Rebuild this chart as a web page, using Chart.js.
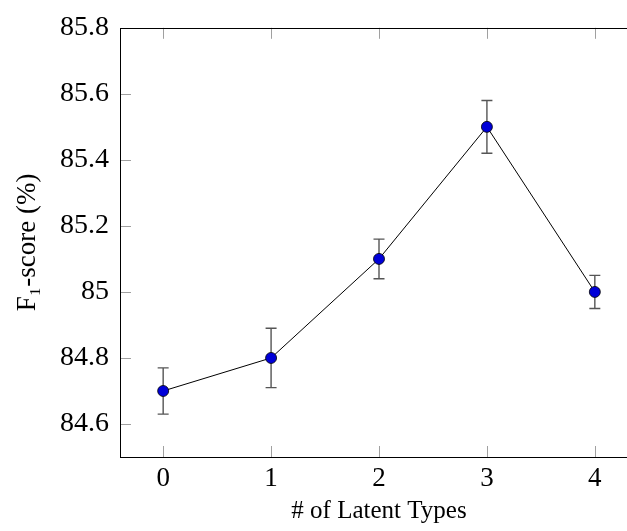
<!DOCTYPE html>
<html><head><meta charset="utf-8">
<script src="https://cdn.jsdelivr.net/npm/chart.js@4"></script>
<style>html,body{margin:0;padding:0;overflow:hidden;background:#fff}</style>
</head><body>
<canvas id="c" width="660" height="531" style="display:block;width:660px;height:531px"></canvas>
<script>
const categories = [0, 1, 2, 3, 4];
const f1Scores   = [84.7, 84.8, 85.1, 85.5, 85.0];
const errUpper   = [84.77, 84.89, 85.16, 85.58, 85.05];
const errLower   = [84.63, 84.71, 85.04, 85.42, 84.95];
const yTicks     = [84.6, 84.8, 85.0, 85.2, 85.4, 85.6, 85.8];
const xTicks     = [0, 1, 2, 3, 4];

const FONT = "'Liberation Serif', 'DejaVu Serif', serif";

const decor = {
  id: 'decor',
  beforeDatasetsDraw(chart) {
    const ctx = chart.ctx, a = chart.chartArea;
    const xs = chart.scales.x, ys = chart.scales.y;
    const L = 11;
    ctx.save();
    ctx.strokeStyle = '#a0a0a0';
    ctx.lineWidth = 1;
    ctx.beginPath();
    xTicks.forEach(v => {
      const px = Math.round(xs.getPixelForValue(v)) + 0.5;
      ctx.moveTo(px, a.bottom); ctx.lineTo(px, a.bottom - L);
      ctx.moveTo(px, a.top); ctx.lineTo(px, a.top + L);
    });
    yTicks.forEach(v => {
      const py = Math.round(ys.getPixelForValue(v)) + 0.5;
      ctx.moveTo(a.left, py); ctx.lineTo(a.left + L, py);
      ctx.moveTo(a.right, py); ctx.lineTo(a.right - L, py);
    });
    ctx.stroke();
    ctx.strokeStyle = '#555555';
    ctx.lineWidth = 1.4;
    const cap = 5.5;
    ctx.beginPath();
    categories.forEach((c, i) => {
      const px = xs.getPixelForValue(c);
      const pt = ys.getPixelForValue(errUpper[i]);
      const pb = ys.getPixelForValue(errLower[i]);
      ctx.moveTo(px, pt); ctx.lineTo(px, pb);
      ctx.moveTo(px - cap, pt); ctx.lineTo(px + cap, pt);
      ctx.moveTo(px - cap, pb); ctx.lineTo(px + cap, pb);
    });
    ctx.stroke();
    ctx.restore();
  },
  afterDraw(chart) {
    const ctx = chart.ctx, a = chart.chartArea;
    ctx.save();
    ctx.strokeStyle = '#000';
    ctx.lineWidth = 1;
    ctx.strokeRect(Math.round(a.left) + 0.5, Math.round(a.top) + 0.5,
                   Math.round(a.right - a.left), Math.round(a.bottom - a.top));
    ctx.restore();
  }
};

new Chart(document.getElementById('c'), {
  type: 'line',
  data: {
    datasets: [{
      data: categories.map((c, i) => ({ x: c, y: f1Scores[i] })),
      borderColor: '#000',
      borderWidth: 1,
      pointRadius: 5.5,
      pointBackgroundColor: '#0000d8',
      pointBorderColor: '#000',
      pointBorderWidth: 0.8,
      tension: 0,
      fill: false
    }]
  },
  options: {
    responsive: false,
    animation: false,
    devicePixelRatio: 1,
    layout: { padding: { top: 26, right: 22, left: 0, bottom: 0 } },
    plugins: { legend: { display: false }, tooltip: { enabled: false } },
    scales: {
      x: {
        type: 'linear',
        min: -0.4, max: 4.4,
        afterBuildTicks: s => { s.ticks = xTicks.map(v => ({ value: v })); },
        afterFit: s => { s.height = 74; },
        grid: { display: false, drawTicks: false },
        border: { display: false },
        ticks: { color: '#000', font: { family: FONT, size: 27 }, padding: 6, maxRotation: 0,
                 callback: v => String(v) },
        title: { display: true, text: '# of Latent Types', color: '#000',
                 font: { family: FONT, size: 25 }, padding: { top: 0, bottom: 5 } }
      },
      y: {
        min: 84.5, max: 85.8,
        afterBuildTicks: s => { s.ticks = yTicks.map(v => ({ value: v })); },
        afterFit: s => { s.width = 120; },
        grid: { display: false, drawTicks: false },
        border: { display: false },
        ticks: { color: '#000', font: { family: FONT, size: 28 }, padding: 11,
                 callback: v => String(Math.round(v * 10) / 10) },
        title: { display: true, text: 'F\u2081-score (%)', color: '#000',
                 font: { family: FONT, size: 27 }, padding: { top: 12, bottom: 0 } }
      }
    }
  },
  plugins: [decor]
});
</script>
</body></html>
